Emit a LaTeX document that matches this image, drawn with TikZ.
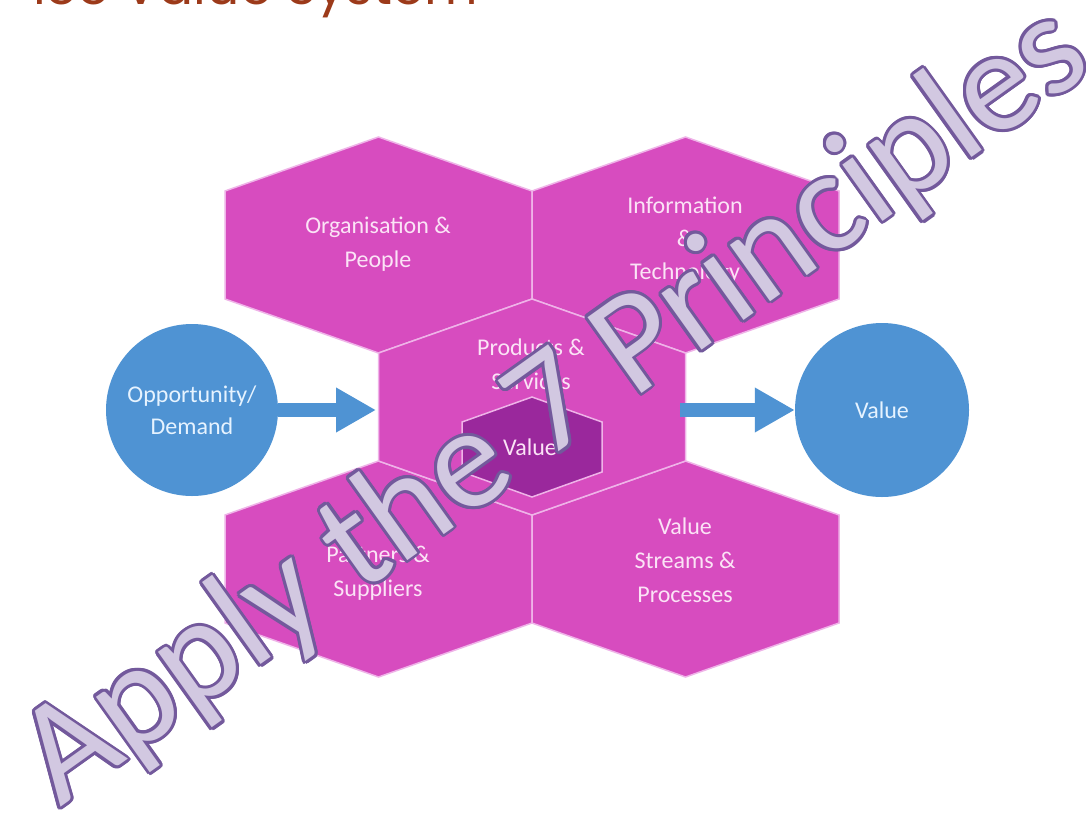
\documentclass[tikz,border=0pt]{standalone}
\usepackage{fontspec}
\setmainfont{Carlito}
\newfontfamily\titlefont{Poppins}
\usetikzlibrary{arrows.meta}
\definecolor{hexpink}{HTML}{D74CBF}
\definecolor{hexline}{HTML}{EFB3E8}
\definecolor{hexdark}{HTML}{9A289C}
\definecolor{bluec}{HTML}{4F93D3}
\definecolor{hextext}{HTML}{FBE3F6}
\definecolor{circtext}{HTML}{E6F3FF}
\definecolor{titlered}{HTML}{9C3A1A}
\definecolor{wmfill}{HTML}{D2C8E1}
\definecolor{wmline}{HTML}{73599C}
\newcommand{\hexshape}[4]{(#1,#2-#4) -- (#1+#3,#2-#4/2) -- (#1+#3,#2+#4/2) -- (#1,#2+#4) -- (#1-#3,#2+#4/2) -- (#1-#3,#2-#4/2) -- cycle}
\newcommand{\wmtext}{Apply the 7 Principles}
\tikzset{
  hexbig/.style={fill=hexpink, draw=hexline, line width=1.5pt, line join=miter},
  hexsmall/.style={fill=hexdark, draw=hexline, line width=1.5pt},
  hexlabel/.style={text=hextext, align=center, inner sep=0pt, font=\fontsize{24}{34}\selectfont},
  circlenode/.style={circle, fill=bluec, draw=none, text=circtext, align=center, inner sep=0pt, font=\fontsize{24}{32}\selectfont},
  bigarrow/.style={draw=bluec, line width=14pt, -{Triangle[length=40pt,width=42pt]}},
  wm/.style={anchor=base west, rotate=35.5, inner sep=0pt, font=\fontsize{145}{150}\selectfont}
}
\begin{document}
\begin{tikzpicture}[x=1pt,y=-1pt]
\useasboundingbox (0,0) rectangle (1086,819);
\clip (0,0) rectangle (1086,819);
\fill[white] (0,0) rectangle (1086,819);
% title
\node[anchor=base east, inner sep=0pt, text=titlered, font=\titlefont\fontsize{52}{60}\selectfont] (title) at (478,5) {ice Value System};
% hexagons
\draw[hexbig] \hexshape{378.5}{245}{153.5}{108};
\draw[hexbig] \hexshape{685.5}{245}{153.5}{108};
\draw[hexbig] \hexshape{378.5}{569}{153.5}{108};
\draw[hexbig] \hexshape{685.5}{569}{153.5}{108};
\draw[hexbig] \hexshape{532}{407}{153.5}{108};
\draw[hexsmall] \hexshape{532}{447}{70}{50};
% hexagon labels
\node[hexlabel] (torg) at (378,244) {Organisation \&\\People};
\node[hexlabel, font=\fontsize{24}{33}\selectfont] (tinfo) at (685,240) {Information\\\&\\Technology};
\node[hexlabel] (tprod) at (531,364) {Products \&\\Services};
\node[hexlabel] (tval) at (530,447) {Value};
\node[hexlabel] (tpart) at (378,573) {Partners \&\\Suppliers};
\node[hexlabel] (tstream) at (685,560) {Value\\Streams \&\\Processes};
% circles
\node[circlenode, minimum size=172pt] (opp) at (192,410) {Opportunity/\\Demand};
\node[circlenode, minimum size=174pt] (val) at (882,410) {Value};
% arrows
\coordinate (hexleft) at (376,410);
\coordinate (hexright) at (680,410);
\draw[bigarrow] (opp.east) -- (hexleft);
\draw[bigarrow] (hexright) -- (val.west);
% watermark
\foreach \a [count=\i] in {0,22.5,...,337.5}{
  \node[wm, text=wmline, shift={(\a:3)}] (wmo\i) at (60,808) {\wmtext};
}
\node[wm, text=wmfill] (wm) at (60,808) {\wmtext};
\end{tikzpicture}
\end{document}
